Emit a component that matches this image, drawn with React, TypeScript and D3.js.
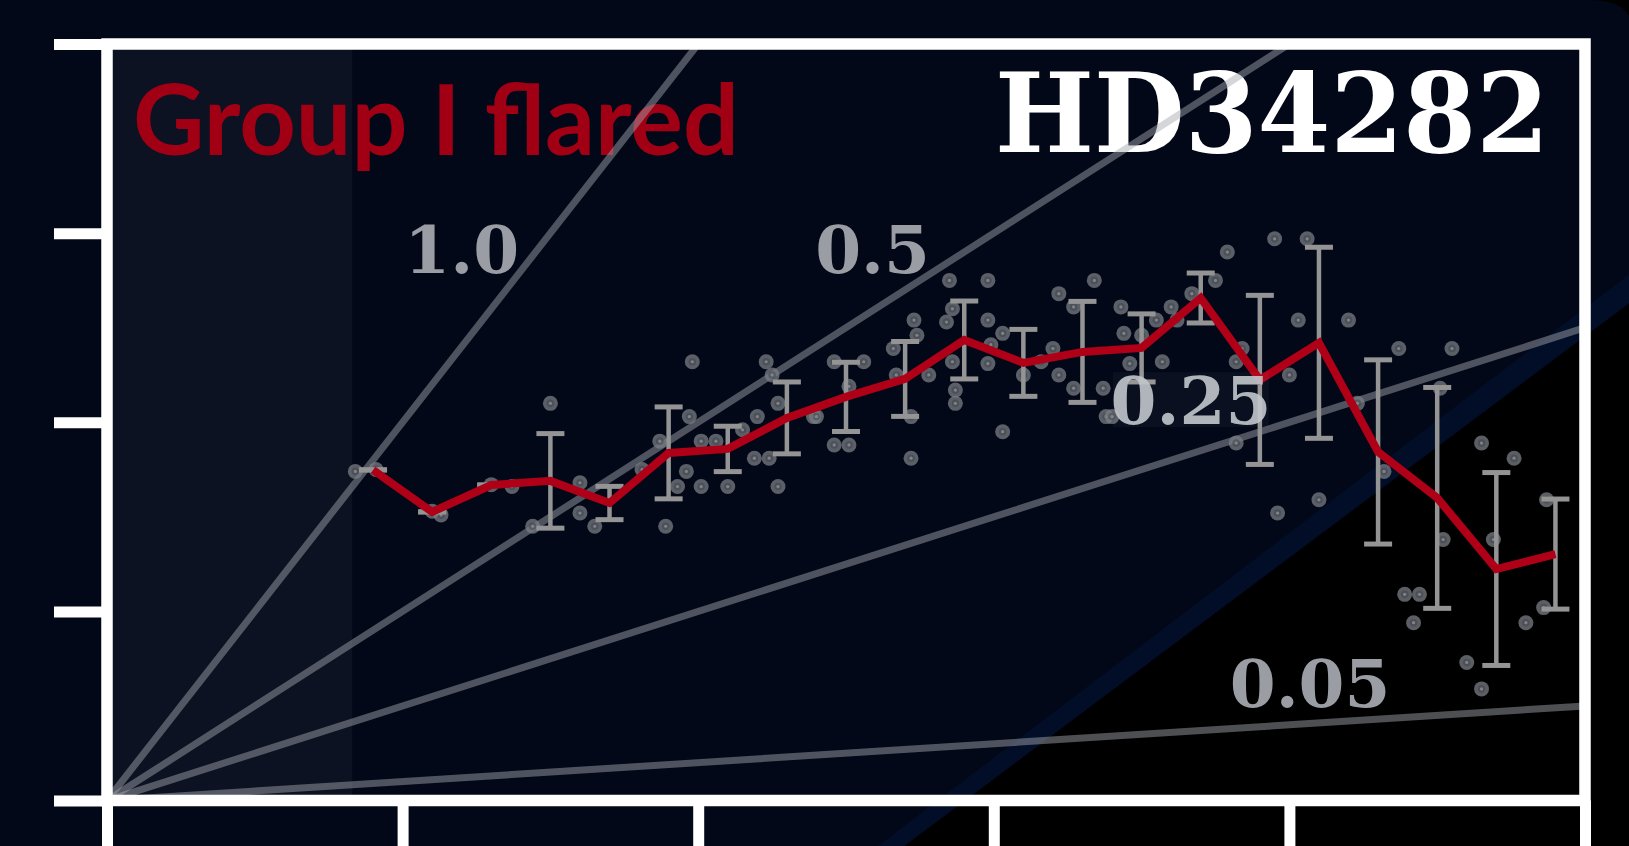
import { useEffect, useRef } from 'react';
import * as d3 from 'd3';

// binned profile (bin centres, means, 1-sigma)
const binX = [0.9, 1.1, 1.3, 1.5, 1.7, 1.9, 2.1, 2.3, 2.5, 2.7, 2.9, 3.1, 3.3, 3.5, 3.7, 3.9, 4.1, 4.3, 4.5, 4.7, 4.9];
const binMean = [1.748, 1.526, 1.668, 1.69, 1.573, 1.838, 1.859, 2.023, 2.134, 2.229, 2.435, 2.314, 2.372, 2.393, 2.657, 2.224, 2.42, 1.843, 1.6, 1.224, 1.303];
const binErr = [0, 0, 0, 0.25, 0.088, 0.243, 0.12, 0.19, 0.183, 0.198, 0.206, 0.177, 0.267, 0.18, 0.132, 0.447, 0.505, 0.487, 0.584, 0.51, 0.291];

// individual measurements
const pointX = [
  0.84, 0.91, 1.13, 1.1, 1.37, 1.3, 1.44, 1.6, 1.6, 1.65,
  1.81, 1.5, 1.98, 2.23, 2.25, 1.97, 1.87, 2.01, 2.06, 2.15,
  2.2, 2.27, 2.39, 2.4, 2.19, 2.24, 2.46, 2.56, 2.51, 2.46,
  2.51, 2.66, 2.67, 2.78, 2.73, 2.74, 2.72, 2.72, 2.85, 2.84,
  2.86, 2.86, 2.87, 2.87, 1.96, 1.93, 2.01, 2.1, 2.27, 1.89,
  2.98, 3.34, 3.22, 2.98, 3.03, 2.99, 2.98, 3.1, 3.16, 3.2,
  3.22, 3.27, 3.27, 3.37, 3.43, 3.44, 3.46, 3.5, 3.6, 3.55,
  3.57, 3.67, 3.75, 3.62, 3.79, 3.38, 3.4, 3.03, 3.82, 3.84,
  3.82, 3.95, 4.06, 4.03, 4.2, 4.0, 4.23, 4.37, 4.55, 4.51,
  4.65, 4.76, 4.32, 4.1, 3.96, 4.52, 4.69, 4.87, 4.39, 4.44,
  4.42, 4.86, 4.8, 4.6, 4.65,
];
const pointY = [
  1.74, 1.75, 1.51, 1.53, 1.66, 1.67, 1.45, 1.68, 1.52, 1.45,
  1.75, 2.1, 2.32, 2.32, 2.25, 2.03, 1.9, 1.9, 1.9, 1.96,
  2.03, 2.1, 2.03, 2.03, 1.81, 1.81, 2.32, 2.32, 2.19, 1.88,
  1.88, 2.39, 2.25, 2.25, 2.54, 2.46, 2.03, 1.81, 2.75, 2.53,
  2.6, 2.32, 2.17, 2.1, 1.74, 1.66, 1.66, 1.66, 1.66, 1.45,
  2.75, 2.75, 2.68, 2.54, 2.47, 2.41, 2.31, 2.25, 2.32, 2.39,
  2.25, 2.18, 2.61, 2.18, 2.61, 2.47, 2.31, 2.46, 2.61, 2.54,
  2.32, 2.68, 2.75, 2.54, 2.9, 2.03, 2.03, 1.95, 2.32, 2.39,
  1.89, 2.97, 2.97, 2.54, 2.54, 2.25, 2.1, 2.39, 2.39, 2.18,
  1.89, 1.81, 1.74, 1.59, 1.52, 1.38, 1.38, 1.59, 1.09, 1.09,
  0.94, 1.02, 0.94, 0.73, 0.59,
];

// aspect-ratio guide lines
const ratios = [1.0, 0.5, 0.25, 0.05];
const ratioLabels = ['1.0', '0.5', '0.25', '0.05'];

const xTicks = [0, 1, 2, 3, 4, 5];
const yTicks = [0, 1, 2, 3, 4];

const title = 'HD34282';
const groupLabel = 'Group I flared';

const App = () => {
  const svgRef = useRef<SVGSVGElement>(null);

  useEffect(() => {
    const width = 1629;
    const height = 846;
    const margin = { top: 44, right: 44, bottom: 45.5, left: 107 };

    const svg = d3.select(svgRef.current).attr('width', width).attr('height', height);
    svg.selectAll('*').remove();

    const x = d3.scaleLinear().domain([0, 5]).range([margin.left, width - margin.right]);
    const y = d3.scaleLinear().domain([0, 4]).range([height - margin.bottom, margin.top]);
    const [x0, x1] = x.range();
    const [y0, y1] = y.range();

    // backdrop
    svg.append('rect').attr('width', width).attr('height', height).attr('fill', '#020817');

    const bandTop = [[2.6, -0.25], [5.16, 2.795]];
    const bandBottom = [[2.69, -0.25], [5.16, 2.641]];
    const pt = (p: number[]) => `${x(p[0])},${y(p[1])}`;
    svg.append('polygon')
      .attr('points', [bandTop[0], bandTop[1], bandBottom[1], bandBottom[0]].map(pt).join(' '))
      .attr('fill', '#020e27');
    svg.append('polygon')
      .attr('points', [bandBottom[0], bandBottom[1], [5.16, -0.25]].map(pt).join(' '))
      .attr('fill', '#000');
    svg.append('path')
      .attr('d', `M${width - 40},0 Q${width - 8},0 ${width},16 L${width},0 Z`)
      .attr('fill', '#000');

    // shaded span
    svg.append('rect')
      .attr('x', x(0)).attr('y', y1)
      .attr('width', x(0.83) - x(0)).attr('height', y0 - y1)
      .attr('fill', '#fff').attr('opacity', 0.045);

    svg.append('defs').append('clipPath').attr('id', 'plot-clip')
      .append('rect').attr('x', x0).attr('y', y1).attr('width', x1 - x0).attr('height', y0 - y1);

    // titles
    svg.append('text')
      .attr('x', 133).attr('y', 155)
      .attr('font-family', 'Lato, "Open Sans", sans-serif')
      .attr('font-weight', 700)
      .attr('font-size', 97)
      .attr('textLength', 606)
      .attr('lengthAdjust', 'spacingAndGlyphs')
      .attr('fill', '#a10014')
      .text(groupLabel);

    svg.append('text')
      .attr('x', 995).attr('y', 152)
      .attr('font-family', '"DejaVu Serif", serif')
      .attr('font-weight', 700)
      .attr('font-size', 110)
      .attr('textLength', 554)
      .attr('lengthAdjust', 'spacingAndGlyphs')
      .attr('fill', '#fff')
      .text(title);

    // guide lines
    const plot = svg.append('g').attr('clip-path', 'url(#plot-clip)');
    plot.selectAll('line.ratio')
      .data(ratios)
      .enter()
      .append('line')
      .attr('class', 'ratio')
      .attr('x1', x(0)).attr('y1', y(0))
      .attr('x2', x(5)).attr('y2', d => y(10 * d))
      .attr('stroke', '#a3a7b1')
      .attr('stroke-opacity', 0.47)
      .attr('stroke-width', 7);

    // scatter
    const pts = plot.selectAll('g.pt')
      .data(pointX.map((v, i) => [v, pointY[i]]))
      .enter()
      .append('g')
      .attr('class', 'pt')
      .attr('transform', d => `translate(${x(d[0])},${y(d[1])})`);
    pts.append('circle').attr('r', 7.5).attr('fill', '#7a7d84').attr('opacity', 0.75);
    pts.append('circle').attr('r', 3.8).attr('fill', '#3a3d44').attr('opacity', 0.45);
    pts.append('circle').attr('r', 1.6).attr('fill', '#8d9096').attr('opacity', 0.8);

    // error bars
    const cap = 14;
    const eb = plot.selectAll('g.eb')
      .data(binX.map((v, i) => ({ x: v, m: binMean[i], e: binErr[i] })))
      .enter()
      .append('g')
      .attr('class', 'eb')
      .attr('stroke', '#949494')
      .attr('fill', 'none');
    eb.append('line')
      .attr('x1', d => x(d.x)).attr('x2', d => x(d.x))
      .attr('y1', d => y(d.m + d.e)).attr('y2', d => y(d.m - d.e))
      .attr('stroke-width', 4.5);
    eb.append('line')
      .attr('x1', d => x(d.x) - cap).attr('x2', d => x(d.x) + cap)
      .attr('y1', d => y(d.m + d.e)).attr('y2', d => y(d.m + d.e))
      .attr('stroke-width', 5);
    eb.append('line')
      .attr('x1', d => x(d.x) - cap).attr('x2', d => x(d.x) + cap)
      .attr('y1', d => y(d.m - d.e)).attr('y2', d => y(d.m - d.e))
      .attr('stroke-width', 5);

    // mean profile
    const line = d3.line<number>().x((d, i) => x(binX[i])).y(d => y(d));
    plot.append('path')
      .datum(binMean)
      .attr('d', line)
      .attr('fill', 'none')
      .attr('stroke', '#b00017')
      .attr('stroke-width', 8)
      .attr('stroke-linejoin', 'miter');

    // guide labels
    const labelPos = [[1.2, 2.79], [2.59, 2.79], [3.667, 1.99], [4.07, 0.495]];
    const labels = svg.append('g')
      .attr('font-family', '"DejaVu Serif", serif')
      .attr('font-weight', 700)
      .attr('font-size', 66)
      .attr('text-anchor', 'middle');
    ratioLabels.forEach((t, i) => {
      const [lx, ly] = labelPos[i];
      if (t === '0.25') {
        labels.append('rect')
          .attr('x', x(lx) - 78).attr('y', y(ly) - 52)
          .attr('width', 156).attr('height', 55)
          .attr('fill', '#fff').attr('opacity', 0.035);
      }
      labels.append('text')
        .attr('x', x(lx)).attr('y', y(ly))
        .attr('fill', t === '0.25' ? '#c3c6cc' : '#9a9da4')
        .attr('opacity', t === '0.25' ? 0.9 : 1)
        .text(t);
    });

    // axes
    const yAxis = d3.axisLeft(y).tickValues(yTicks).tickSize(53).tickFormat(() => '');
    const xAxis = d3.axisBottom(x).tickValues(xTicks).tickSize(53).tickFormat(() => '');
    const gy = svg.append('g').attr('transform', `translate(${x0},0)`).call(yAxis);
    const gx = svg.append('g').attr('transform', `translate(0,${y0})`).call(xAxis);
    [gx, gy].forEach(g => {
      g.select('.domain').remove();
      g.selectAll('.tick line').attr('stroke', '#fff').attr('stroke-width', 11);
    });

    svg.append('rect')
      .attr('x', x0).attr('y', y1)
      .attr('width', x1 - x0).attr('height', y0 - y1)
      .attr('fill', 'none')
      .attr('stroke', '#fff')
      .attr('stroke-width', 11.5);
  }, []);

  return <svg ref={svgRef} style={{ position: 'absolute', left: 0, top: 0, display: 'block' }}></svg>;
};

export default App;
